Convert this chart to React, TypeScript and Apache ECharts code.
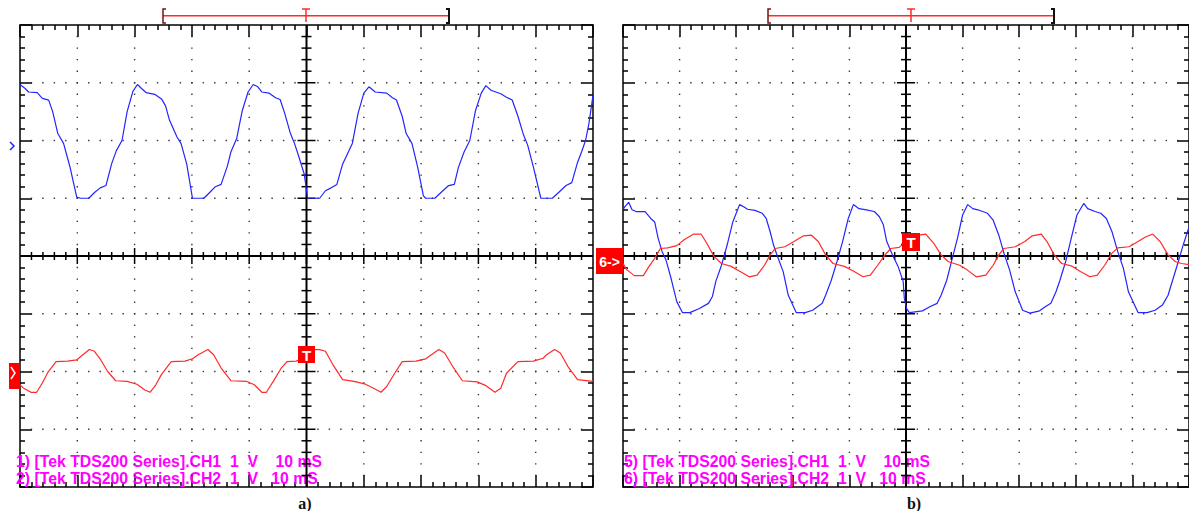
import React, { useEffect, useRef } from "react";
import * as echarts from "echarts";

// Time axis in divisions (10 ms/div), voltage in divisions (1 V/div)
const blueA: number[][] = [
  [0, 2.97], [0.09, 2.9], [0.15, 2.84], [0.3, 2.83], [0.39, 2.73], [0.5, 2.7], [0.57, 2.5], [0.66, 2.12], [0.76, 1.95], [0.87, 1.55], [0.99, 1.02], [1.06, 1.0], [1.2, 1.0], [1.3, 1.1], [1.4, 1.18], [1.5, 1.22], [1.6, 1.6], [1.68, 1.82], [1.78, 2.0], [1.87, 2.5], [1.97, 2.85], [2.05, 2.97],
  [2.12, 2.9], [2.2, 2.83], [2.35, 2.8], [2.47, 2.72], [2.54, 2.6], [2.61, 2.35], [2.74, 2.06], [2.81, 1.95], [2.91, 1.59], [3.01, 1.0], [3.21, 1.0], [3.31, 1.1], [3.41, 1.2], [3.51, 1.24], [3.62, 1.56], [3.68, 1.8], [3.78, 2.03], [3.88, 2.52], [3.98, 2.84], [4.07, 2.97],
  [4.15, 2.93], [4.22, 2.84], [4.35, 2.82], [4.46, 2.74], [4.54, 2.71], [4.62, 2.47], [4.72, 2.12], [4.79, 1.95], [4.86, 1.74], [4.96, 1.42], [5.02, 1.0], [5.23, 1.0], [5.33, 1.13], [5.43, 1.18], [5.53, 1.24], [5.63, 1.59], [5.73, 1.8], [5.8, 1.95], [5.9, 2.47], [6.0, 2.82], [6.09, 2.93],
  [6.2, 2.84], [6.4, 2.82], [6.5, 2.74], [6.57, 2.7], [6.67, 2.42], [6.74, 2.12], [6.84, 1.95], [6.94, 1.54], [7.04, 1.04], [7.08, 1.0], [7.24, 1.0], [7.38, 1.13], [7.48, 1.22], [7.58, 1.24], [7.65, 1.53], [7.75, 1.8], [7.85, 2.0], [7.95, 2.52], [8.05, 2.82], [8.13, 2.95],
  [8.22, 2.87], [8.39, 2.81], [8.49, 2.75], [8.59, 2.7], [8.69, 2.42], [8.79, 2.09], [8.86, 1.92], [8.96, 1.54], [9.09, 1.0], [9.29, 1.0], [9.4, 1.1], [9.53, 1.22], [9.63, 1.27], [9.73, 1.62], [9.8, 1.8], [9.87, 2.0], [9.93, 2.3], [10, 2.78],
];

const redA: number[][] = [
  [0, -2.23], [0.05, -2.28], [0.19, -2.36], [0.29, -2.36], [0.39, -2.2], [0.49, -2.01], [0.63, -1.83], [0.83, -1.82], [0.99, -1.8], [1.06, -1.74], [1.21, -1.62], [1.3, -1.65], [1.41, -1.8], [1.53, -2.0], [1.67, -2.16], [1.87, -2.17], [2.04, -2.22], [2.18, -2.32], [2.27, -2.36],
  [2.37, -2.23], [2.47, -2.05], [2.64, -1.83], [2.88, -1.82], [3.01, -1.78], [3.11, -1.71], [3.28, -1.62], [3.38, -1.71], [3.51, -1.94], [3.68, -2.16], [3.95, -2.17], [4.09, -2.23], [4.22, -2.36], [4.3, -2.36],
  [4.42, -2.17], [4.56, -1.94], [4.66, -1.83], [4.82, -1.82], [4.92, -1.78], [5.05, -1.66], [5.12, -1.62], [5.23, -1.62], [5.33, -1.65], [5.46, -1.88], [5.63, -2.14], [5.83, -2.17], [6.03, -2.22], [6.17, -2.29], [6.3, -2.36],
  [6.4, -2.26], [6.54, -2.03], [6.67, -1.83], [6.91, -1.82], [7.08, -1.78], [7.18, -1.71], [7.31, -1.62], [7.41, -1.68], [7.55, -1.91], [7.72, -2.16], [7.98, -2.18], [8.12, -2.24], [8.29, -2.36],
  [8.39, -2.29], [8.49, -2.03], [8.69, -1.83], [8.96, -1.82], [9.13, -1.77], [9.19, -1.71], [9.33, -1.62], [9.43, -1.68], [9.56, -1.91], [9.73, -2.14], [10, -2.17],
];

const blueB: number[][] = [
  [0, 0.8], [0.03, 0.85], [0.1, 0.93], [0.16, 0.8], [0.23, 0.77], [0.39, 0.77], [0.49, 0.65], [0.56, 0.59], [0.62, 0.31], [0.69, 0.08], [0.76, -0.07], [0.85, -0.39], [0.95, -0.79], [1.05, -0.98], [1.18, -0.98], [1.35, -0.91], [1.51, -0.82], [1.58, -0.7], [1.64, -0.44], [1.74, -0.16], [1.84, 0.19], [1.94, 0.59], [2.06, 0.89],
  [2.14, 0.85], [2.2, 0.81], [2.33, 0.79], [2.46, 0.74], [2.53, 0.65], [2.6, 0.42], [2.66, 0.19], [2.73, -0.01], [2.83, -0.27], [2.92, -0.68], [3.06, -0.98], [3.22, -0.98], [3.35, -0.94], [3.52, -0.82], [3.58, -0.68], [3.68, -0.42], [3.78, -0.1], [3.88, 0.25], [3.98, 0.65], [4.07, 0.89],
  [4.17, 0.82], [4.3, 0.8], [4.44, 0.77], [4.53, 0.68], [4.6, 0.54], [4.66, 0.25], [4.76, 0.02], [4.86, -0.18], [4.95, -0.44], [4.97, -0.73], [5.01, -0.91], [5.06, -0.98], [5.29, -0.95], [5.42, -0.88], [5.55, -0.82], [5.62, -0.68], [5.72, -0.42], [5.81, -0.07], [5.91, 0.31], [6.0, 0.71], [6.09, 0.89],
  [6.18, 0.82], [6.27, 0.8], [6.44, 0.74], [6.54, 0.62], [6.64, 0.36], [6.73, 0.05], [6.83, -0.24], [6.93, -0.62], [7.06, -0.94], [7.19, -0.99], [7.36, -0.95], [7.46, -0.88], [7.56, -0.82], [7.65, -0.62], [7.72, -0.42], [7.82, -0.1], [7.92, 0.31], [8.02, 0.71], [8.14, 0.91],
  [8.21, 0.82], [8.34, 0.77], [8.44, 0.74], [8.54, 0.65], [8.64, 0.42], [8.74, 0.08], [8.84, -0.21], [8.93, -0.62], [9.1, -0.98], [9.26, -0.98], [9.4, -0.94], [9.53, -0.85], [9.63, -0.68], [9.72, -0.39], [9.82, -0.07], [9.9, 0.2], [10, 0.5],
];

const redB: number[][] = [
  [0, -0.13], [0.07, -0.24], [0.2, -0.34], [0.36, -0.34], [0.46, -0.18], [0.56, -0.04], [0.66, 0.13], [0.79, 0.14], [0.95, 0.18], [1.08, 0.28], [1.25, 0.38], [1.38, 0.38], [1.48, 0.22], [1.61, -0.01], [1.74, -0.13], [1.91, -0.18], [2.07, -0.27], [2.23, -0.36],
  [2.37, -0.33], [2.5, -0.16], [2.6, 0.02], [2.69, 0.13], [2.86, 0.16], [3.02, 0.25], [3.19, 0.35], [3.33, 0.36], [3.45, 0.25], [3.58, 0.02], [3.71, -0.13], [3.91, -0.18], [4.07, -0.26], [4.24, -0.36],
  [4.37, -0.33], [4.5, -0.16], [4.63, 0.02], [4.73, 0.13], [4.88, 0.15], [5.05, 0.3], [5.22, 0.36], [5.35, 0.38], [5.49, 0.22], [5.62, 0.02], [5.75, -0.1], [5.95, -0.16], [6.08, -0.24], [6.24, -0.36],
  [6.41, -0.33], [6.54, -0.16], [6.64, 0.02], [6.73, 0.13], [6.93, 0.16], [7.1, 0.25], [7.23, 0.35], [7.39, 0.38], [7.49, 0.25], [7.62, 0.02], [7.75, -0.13], [7.92, -0.17], [8.08, -0.27], [8.25, -0.36],
  [8.38, -0.33], [8.51, -0.16], [8.64, 0.05], [8.74, 0.14], [8.94, 0.16], [9.1, 0.25], [9.23, 0.33], [9.36, 0.38], [9.49, 0.25], [9.63, 0.02], [9.76, -0.1], [9.87, -0.13], [10, -0.15],
];

const legendA = ["1) [Tek TDS200 Series].CH1  1  V    10 mS", "2) [Tek TDS200 Series].CH2  1  V   10 mS"];
const legendB = ["5) [Tek TDS200 Series].CH1  1  V    10 mS", "6) [Tek TDS200 Series].CH2  1  V   10 mS"];
const panelLabels = ["a)", "b)"];

const X_DIVS = 10;
const Y_HALF = 4;
const MINOR = 5;

const BLUE = "#2424ff";
const RED = "#ff2a2a";
const MAGENTA = "#ff00ff";

function reticle(_params: any, api: any) {
  const children: any[] = [];
  const c = (x: number, y: number) => api.coord([x, y]);
  const step = 1 / MINOR;
  // dotted graticule
  for (let gx = 1; gx < X_DIVS; gx++) {
    if (gx === X_DIVS / 2) continue;
    for (let k = 1; k < Y_HALF * 2 * MINOR; k++) {
      const p = c(gx, -Y_HALF + k * step);
      children.push({ type: "rect", shape: { x: p[0] - 0.7, y: p[1] - 0.7, width: 1.4, height: 1.4 }, style: { fill: "#333" } });
    }
  }
  for (let gy = -Y_HALF + 1; gy < Y_HALF; gy++) {
    if (gy === 0) continue;
    for (let k = 1; k < X_DIVS * MINOR; k++) {
      const p = c(k * step, gy);
      children.push({ type: "rect", shape: { x: p[0] - 0.7, y: p[1] - 0.7, width: 1.4, height: 1.4 }, style: { fill: "#333" } });
    }
  }
  // center cross
  const t = c(X_DIVS / 2, Y_HALF);
  const b = c(X_DIVS / 2, -Y_HALF);
  children.push({ type: "line", shape: { x1: t[0], y1: t[1], x2: b[0], y2: b[1] }, style: { stroke: "#000", lineWidth: 2 } });
  const l = c(0, 0);
  const r = c(X_DIVS, 0);
  children.push({ type: "line", shape: { x1: l[0], y1: l[1], x2: r[0], y2: r[1] }, style: { stroke: "#000", lineWidth: 2 } });
  for (let k = 1; k < Y_HALF * 2 * MINOR; k++) {
    const p = c(X_DIVS / 2, -Y_HALF + k * step);
    const h = k % MINOR === 0 ? 9 : 5;
    children.push({ type: "line", shape: { x1: p[0] - h, y1: p[1], x2: p[0] + h, y2: p[1] }, style: { stroke: "#000", lineWidth: 1.5 } });
  }
  for (let k = 1; k < X_DIVS * MINOR; k++) {
    const p = c(k * step, 0);
    const h = k % MINOR === 0 ? 8 : 4;
    children.push({ type: "line", shape: { x1: p[0], y1: p[1] - h, x2: p[0], y2: p[1] + h }, style: { stroke: "#000", lineWidth: 1.5 } });
  }
  return { type: "group", children };
}

function frameAxes(gridIndex: number) {
  const common = {
    gridIndex,
    type: "value",
    interval: 1,
    axisLabel: { show: false },
    splitLine: { show: false },
    axisLine: { show: true, onZero: false, lineStyle: { color: "#000", width: 1.5 } },
    axisTick: { show: true, inside: true, length: 12, lineStyle: { color: "#000", width: 1.5 } },
    minorTick: { show: true, splitNumber: MINOR, length: 5, lineStyle: { color: "#000", width: 1.5 } },
    minorSplitLine: { show: false },
  };
  const xs = [
    { ...common, min: 0, max: X_DIVS, position: "bottom" },
    { ...common, min: 0, max: X_DIVS, position: "top" },
  ];
  const ys = [
    { ...common, min: -Y_HALF, max: Y_HALF, position: "left" },
    { ...common, min: -Y_HALF, max: Y_HALF, position: "right" },
  ];
  return { xs, ys };
}

function bracket(xl: number, xc: number, xr: number) {
  const y = 15.7;
  return [
    { type: "line", shape: { x1: xl, y1: y, x2: xr, y2: y }, style: { stroke: RED, lineWidth: 1.5 }, z: 5 },
    { type: "polyline", shape: { points: [[xl + 3, 9], [xl, 9], [xl, 23], [xl + 3, 23]] }, style: { stroke: "#7a1010", lineWidth: 1.5, fill: null }, z: 5 },
    { type: "polyline", shape: { points: [[xr - 3, 9], [xr, 9], [xr, 23], [xr - 3, 23]] }, style: { stroke: "#111", lineWidth: 2, fill: null }, z: 5 },
    { type: "line", shape: { x1: xc, y1: 9, x2: xc, y2: 22 }, style: { stroke: RED, lineWidth: 1.5 }, z: 5 },
    { type: "line", shape: { x1: xc - 4, y1: 9, x2: xc + 4, y2: 9 }, style: { stroke: RED, lineWidth: 1.5 }, z: 5 },
  ];
}

function textEl(text: string, x: number, y: number, font: string, fill: string, align = "left", z = 1) {
  return {
    type: "text",
    x,
    y,
    z,
    style: { text, x: 0, y: 0, font, fill, align, textAlign: align, verticalAlign: "middle", textVerticalAlign: "middle" },
  };
}

export default function App() {
  const ref = useRef<HTMLDivElement>(null);
  useEffect(() => {
    if (!ref.current) return;
    const chart = echarts.init(ref.current, undefined, { renderer: "svg" });
    const a = frameAxes(0);
    const b = frameAxes(1);
    const legendFont = 'bold 15.8px "Liberation Sans", Arial, sans-serif';
    const labelFont = 'bold 16px "Liberation Serif", "Times New Roman", serif';
    const line = (data: number[][], color: string, xi: number, yi: number) => ({
      type: "line",
      xAxisIndex: xi,
      yAxisIndex: yi,
      data,
      showSymbol: false,
      symbol: "none",
      silent: true,
      z: 3,
      lineStyle: { color, width: 1.2 },
    });
    const option: any = {
      animation: false,
      backgroundColor: "#fff",
      grid: [
        { left: 20, top: 25, width: 573, height: 462 },
        { left: 623, top: 25, width: 576, height: 462 },
      ],
      xAxis: [...a.xs, ...b.xs],
      yAxis: [...a.ys, ...b.ys],
      series: [
        { type: "custom", xAxisIndex: 0, yAxisIndex: 0, data: [[5, 0]], renderItem: reticle, silent: true, z: 2 },
        { type: "custom", xAxisIndex: 2, yAxisIndex: 2, data: [[5, 0]], renderItem: reticle, silent: true, z: 2 },
        line(blueA, BLUE, 0, 0),
        line(redA, RED, 0, 0),
        line(blueB, BLUE, 2, 2),
        line(redB, RED, 2, 2),
      ],
      graphic: [
        ...bracket(163, 306, 449),
        ...bracket(768, 911, 1054),
        // CH1 ground marker (panel a)
        { type: "polyline", shape: { points: [[10, 142], [14, 146], [10, 150]] }, style: { stroke: BLUE, lineWidth: 1.5, fill: null }, z: 5 },
        // CH2 ground marker (panel a)
        { type: "rect", shape: { x: 9, y: 363, width: 11, height: 26 }, style: { fill: "#f00" }, z: 5 },
        { type: "polyline", shape: { points: [[11, 367], [15, 373], [11, 379]] }, style: { stroke: "#fff", lineWidth: 1.5, fill: null }, z: 6 },
        // trigger markers
        { type: "rect", shape: { x: 298, y: 346, width: 17, height: 17 }, style: { fill: "#f00" }, z: 5 },
        textEl("T", 306.5, 355, 'bold 15px "Liberation Sans", Arial, sans-serif', "#fff", "center", 6),
        { type: "rect", shape: { x: 902, y: 233, width: 18, height: 18 }, style: { fill: "#f00" }, z: 5 },
        textEl("T", 911, 242.5, 'bold 15px "Liberation Sans", Arial, sans-serif', "#fff", "center", 6),
        // panel b reference marker
        { type: "rect", shape: { x: 596, y: 248, width: 27, height: 26 }, style: { fill: "#f00" }, z: 5 },
        textEl("6->", 609.5, 261.5, 'bold 14px "Liberation Sans", Arial, sans-serif', "#fff", "center", 6),
        // legends
        textEl(legendA[0], 16, 461, legendFont, MAGENTA),
        textEl(legendA[1], 16, 478, legendFont, MAGENTA),
        textEl(legendB[0], 624, 461, legendFont, MAGENTA),
        textEl(legendB[1], 624, 478, legendFont, MAGENTA),
        // panel labels
        textEl(panelLabels[0], 305, 503, labelFont, "#111", "center"),
        textEl(panelLabels[1], 914, 503, labelFont, "#111", "center"),
      ],
    };
    chart.setOption(option);
    return () => chart.dispose();
  }, []);
  return (
    <div
      ref={ref}
      style={{ position: "absolute", left: 0, top: 0, width: 1189, height: 511, overflow: "hidden", background: "#fff" }}
    />
  );
}
